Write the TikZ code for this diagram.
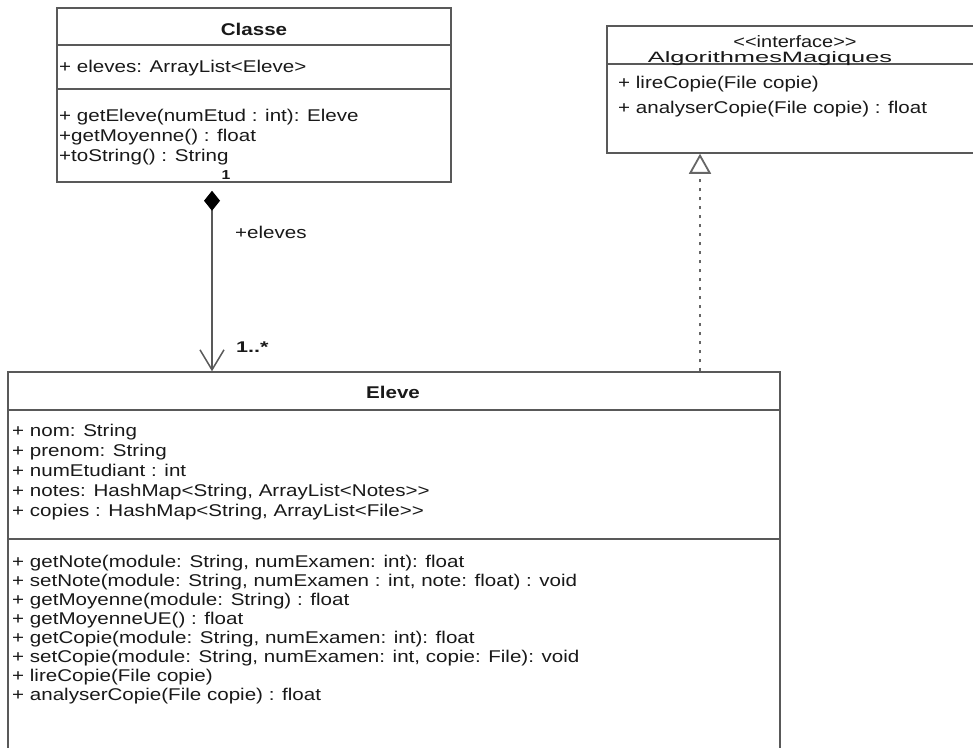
\documentclass[tikz,border=0pt]{standalone}
\usepackage{fontspec}
\setmainfont{Liberation Sans}[FakeStretch=1.21]
\usepackage{tikz}
\usetikzlibrary{calc}
\usetikzlibrary{arrows.meta}
\usetikzlibrary{positioning}
\tikzset{umlbox/.style={rectangle,draw=black!65,line width=1.5pt,fill=white,inner sep=0pt}}
\tikzset{sepline/.style={draw=black!65,line width=1.5pt}}
\tikzset{member/.style={anchor=base west,inner sep=0pt,text=black!90,font=\fontsize{17}{19}\selectfont}}
\tikzset{classname/.style={inner sep=0pt,text=black!90,font=\bfseries\fontsize{17}{19}\selectfont}}
\tikzset{plainname/.style={inner sep=0pt,text=black!90,font=\fontsize{17}{19}\selectfont}}
\tikzset{mult/.style={inner sep=1pt,text=black!90,font=\bfseries\fontsize{15.5}{17}\selectfont}}

\begin{document}
\begin{tikzpicture}[x=1pt,y=-1pt]
  % page and cut
  \useasboundingbox (0,0) rectangle (973,747);
  \clip (0,0) rectangle (973,747);
  % connector styles
  \tikzset{
    composition/.style={
      draw=black!65,
      line width=1.5pt,
      shorten <=8pt,
      arrows={Diamond[length=20pt,width=16pt,color=black]-Straight Barb[length=20pt,width=24pt]}
    }
  }
  \tikzset{
    realize/.style={
      draw=black!60,
      line width=2.6pt,
      dash pattern=on 3pt off 6pt,
      -{Triangle[open,length=20pt,width=22pt,fill=white,line width=1.8pt]}
    }
  }

  % Classe
  \node[umlbox,minimum width=394pt,minimum height=174pt] (classe) at (254,95) {};
  \draw[sepline] (classe.west |- 0,45) -- (classe.east |- 0,45);
  \draw[sepline] (classe.west |- 0,89) -- (classe.east |- 0,89);
  \node[classname] (classeName) at (254,29) {Classe};
  \node[member] (classeAttr) at (59,72) {+ eleves: ArrayList<Eleve>};
  \foreach \txt [count=\i from 0] in {{+ getEleve(numEtud : int): Eleve},{+getMoyenne() : float},{+toString() : String}}
    \node[member] (classeOp\i) at (59,121+20*\i) {\txt};

  % interface
  \node[umlbox,minimum width=383pt,minimum height=127pt] (iface) at (798.5,89.5) {};
  \draw[sepline] (iface.west |- 0,64) -- (iface.east |- 0,64);
  \node[plainname,font=\fontsize{16.5}{17}\selectfont,anchor=base] (ifaceStereo) at (795,47) {<{}<interface>{}>};
  \node[plainname,font=\fontsize{15}{16}\selectfont,anchor=base] (ifaceName) at (770,62) {\scalebox{1.4}[1]{AlgorithmesMagiques}};
  \node[member] (ifaceOp0) at (618,88.5) {+ lireCopie(File copie)};
  \node[member] (ifaceOp1) at (618,113.5) {+ analyserCopie(File copie) : float};

  % Eleve
  \node[umlbox,minimum width=772pt,minimum height=428pt] (eleve) at (394,586) {};
  \draw[sepline] (eleve.west |- 0,410) -- (eleve.east |- 0,410);
  \draw[sepline] (eleve.west |- 0,539) -- (eleve.east |- 0,539);
  \node[classname] (eleveName) at (393,392) {Eleve};
  \foreach \txt [count=\i from 0] in {{+ nom: String},{+ prenom: String},{+ numEtudiant : int},
      {+ notes: HashMap<String, ArrayList<Notes>{}>},{+ copies : HashMap<String, ArrayList<File>{}>}}
    \node[member] (eleveAttr\i) at (12,436+20*\i) {\txt};
  \foreach \txt [count=\i from 0] in {{+ getNote(module: String, numExamen: int): float},
      {+ setNote(module: String, numExamen : int, note: float) : void},
      {+ getMoyenne(module: String) : float},{+ getMoyenneUE() : float},
      {+ getCopie(module: String, numExamen: int): float},
      {+ setCopie(module: String, numExamen: int, copie: File): void},
      {+ lireCopie(File copie)},{+ analyserCopie(File copie) : float}}
    \node[member] (eleveOp\i) at (12,567.5+19*\i) {\txt};

  % connectors
  \draw[composition] (classe.south -| 212,0) -- (eleve.north -| 212,0);
  \draw[realize] (eleve.north -| 700,0) -- (iface.south -| 700,0);
  \node[mult,fill=white,font=\bfseries\fontsize{13}{14}\selectfont] (multOne) at (226,175) {1};
  \node[plainname,anchor=west] (roleEleves) at (235,232) {+eleves};
  \node[mult,anchor=west] (multMany) at (235,347) {\scalebox{1.15}[1]{1..*}};
\end{tikzpicture}
\end{document}
